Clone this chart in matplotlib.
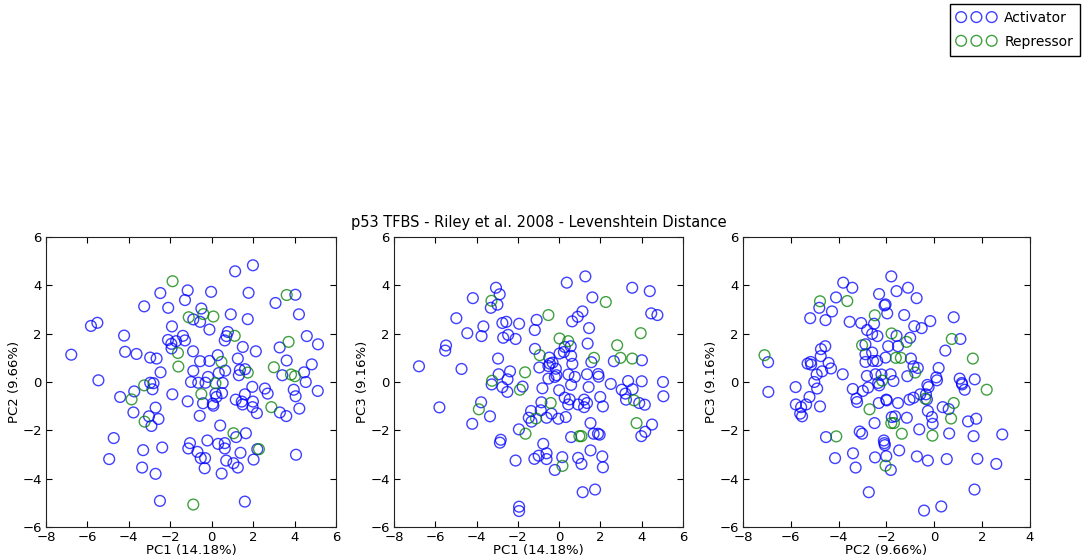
import matplotlib
matplotlib.use("Agg")
import matplotlib.pyplot as plt
import numpy as np

title = "p53 TFBS - Riley et al. 2008 - Levenshtein Distance"
series_names = ["Activator", "Repressor"]
axis_labels = [("PC1 (14.18%)", "PC2 (9.66%)"),
               ("PC1 (14.18%)", "PC3 (9.16%)"),
               ("PC2 (9.66%)", "PC3 (9.16%)")]
xlims = [(-8, 6), (-8, 6), (-8, 4)]
ylim = (-6, 6)

# Panel 1: PC1 vs PC2
p1_act = [(-1.16,3.79),(-2.48,3.68),(-1.29,3.39),(-3.26,3.13),(-2.10,3.07),(-0.89,2.59),(-1.92,2.30),(-5.83,2.32),(-5.52,2.45),(-4.23,1.92),(-1.39,1.91),(-2.11,1.74),(-1.72,1.69),(-1.29,1.72),(-1.95,1.58),(-1.94,1.39),(-0.90,1.27),(-6.78,1.13),(-4.18,1.25),(-3.63,1.16),(-2.97,1.01),(-2.66,0.97),(-2.47,0.40),(-0.89,0.46),(-5.47,0.07),(-1.0,0.0),(-2.97,-0.03),(-2.81,-0.05),(-2.86,-0.30),(-4.42,-0.62),(-3.74,-0.39),(-1.90,-0.51),(-1.16,-0.80),(-2.71,-1.06),(-3.78,-1.26),(-3.03,-1.42),(-2.57,-1.53),(-2.91,-1.82),(-4.73,-2.32),(-1.05,-2.53),(-1.13,-2.75),(-3.31,-2.82),(-2.39,-2.71),(-4.95,-3.19),(-3.36,-3.54),(-2.71,-3.80),(-2.50,-4.92),
          (1.99,4.83),(1.13,4.58),(-0.03,3.73),(1.78,3.69),(4.04,3.61),(3.08,3.27),(-0.50,3.04),(-0.56,2.49),(0.92,2.80),(1.74,2.60),(4.21,2.80),(-0.11,2.17),(0.78,2.07),(0.71,1.90),(0.63,1.72),(4.59,1.90),(5.13,1.56),(1.50,1.45),(3.28,1.43),(2.13,1.27),(0.29,1.11),(1.26,0.97),(-0.56,0.86),(-0.11,0.87),(3.62,0.89),(4.83,0.73),(0.65,0.47),(1.36,0.50),(1.61,0.53),(1.31,0.28),(0.34,0.37),(3.41,0.28),(4.46,0.40),(-0.18,0.21),
          (-0.65,-0.03),(-0.30,-0.03),(0.53,-0.04),(4.54,0.0),(1.96,-0.20),(2.57,-0.27),(2.70,-0.48),(3.96,-0.32),(4.05,-0.59),(5.12,-0.37),(0.18,-0.48),(0.23,-0.62),(0.50,-0.46),(-0.42,-0.88),(0.05,-0.90),(0.08,-0.98),(1.16,-0.73),(1.60,-0.51),(1.45,-0.81),(1.49,-0.93),(1.99,-0.81),(1.97,-1.04),(2.18,-1.29),(3.29,-1.26),(3.60,-1.41),(4.23,-1.10),(-0.58,-1.40),(0.41,-1.80),(1.18,-2.28),(1.65,-2.12),(-0.21,-2.42),(0.31,-2.56),(0.63,-2.53),(0.63,-2.75),(-0.69,-2.89),(-0.53,-3.15),(-0.32,-3.15),(-0.34,-3.57),(0.48,-3.79),(0.70,-3.25),(1.05,-3.36),(1.26,-3.54),(1.39,-2.93),(2.20,-2.78),(2.02,-3.21),(4.07,-3.01),(1.60,-4.95)]
p1_rep = [(-1.89,4.17),(-1.11,2.68),(-1.63,1.20),(-1.61,0.64),(-3.26,-0.14),(-3.87,-0.72),(-3.24,-1.64),(-0.89,-5.07),(3.62,3.60),(-0.40,2.81),(0.08,2.71),(1.11,1.91),(3.71,1.66),(0.47,0.83),(3.00,0.61),(1.74,0.39),(3.83,0.31),(4.02,0.24),(0.18,-0.05),(-0.50,-0.50),(2.88,-1.04),(1.05,-2.12),(2.28,-2.78)]

# Panel 2: PC1 vs PC3
p2_act = [(-3.06,3.90),(-2.88,3.63),(-2.99,3.20),(-3.31,3.07),(-4.18,3.47),(-4.98,2.64),(-3.67,2.30),(-3.76,1.90),(-4.45,2.02),(-2.75,2.44),(-2.56,2.49),(-1.94,2.41),(-1.09,2.57),(-1.18,2.15),(-2.47,1.95),(-2.71,1.83),(-2.11,1.78),(-5.48,1.51),(-5.52,1.30),(-1.17,1.37),(-2.96,0.97),(-6.79,0.65),(-4.73,0.54),(-2.38,0.44),(-0.96,0.60),(-2.93,0.32),(-2.50,0.11),(-3.27,-0.10),(-2.75,-0.21),(-2.51,-0.41),(-1.77,-0.19),(-0.81,-0.26),(-5.80,-1.05),(-3.78,-0.84),(-3.35,-1.42),(-4.21,-1.73),(-1.36,-1.20),(-1.47,-1.48),(-1.34,-1.64),(-0.89,-1.17),(-0.86,-0.84),(-1.95,-1.96),(-2.83,-2.39),(-2.87,-2.51),(-2.11,-3.25),(-1.20,-3.18),(-0.99,-3.05),(-0.77,-2.56),(-1.94,-5.16),(-1.94,-5.34),
          (1.27,4.37),(0.37,4.11),(3.54,3.90),(4.39,3.76),(1.61,3.50),(1.13,2.92),(0.90,2.70),(0.63,2.51),(4.46,2.84),(4.76,2.77),(1.45,2.23),(0.56,1.48),(1.38,1.59),(0.27,1.45),(0.23,1.24),(0.02,1.18),(0.58,1.08),(-0.48,1.01),(-0.32,0.80),(-0.45,0.76),(-0.52,0.66),(0.64,0.75),(1.56,0.82),(2.65,0.86),(4.01,0.90),(-0.16,0.55),(-0.52,0.14),(-0.21,0.21),(-0.13,0.28),(0.45,0.31),(0.76,0.21),(1.35,0.32),(1.89,0.33),(1.91,0.22),(2.50,-0.08),(3.34,0.04),(4.00,0.03),(5.03,0.00),
          (0.58,-0.12),(1.43,-0.21),(0.0,-0.34),(0.27,-0.65),(0.51,-0.72),(0.44,-0.93),(0.92,-0.93),(1.21,-0.73),(1.35,-0.87),(1.21,-1.04),(1.99,-0.62),(2.12,-1.01),(3.03,-0.32),(3.21,-0.48),(3.24,-0.73),(3.56,-0.30),(3.88,-0.87),(4.15,-0.94),(5.05,-0.59),(-0.61,-1.48),(-0.37,-1.31),(-0.04,-1.52),(0.32,-1.45),(1.52,-1.70),(4.50,-1.76),(4.17,-2.06),(3.98,-2.24),(0.58,-2.28),(1.67,-2.14),(1.88,-2.14),(1.96,-2.18),(-0.61,-2.95),(-0.61,-3.19),(0.15,-3.11),(-0.21,-3.64),(0.92,-3.14),(1.08,-3.39),(1.52,-2.83),(2.09,-3.08),(2.12,-3.53),(1.14,-4.56),(1.74,-4.45)]
p2_rep = [(-3.28,3.36),(-0.94,1.11),(-1.65,0.40),(-3.25,0.05),(-1.90,-0.32),(-3.89,-1.13),(-1.12,-1.51),(-1.63,-2.14),(2.26,3.31),(-0.52,2.77),(3.95,2.02),(0.02,1.80),(0.44,1.69),(2.81,1.52),(1.69,1.00),(2.97,1.00),(3.54,0.97),(3.63,-0.76),(-0.41,-0.87),(3.75,-1.70),(0.98,-2.24),(1.08,-2.24),(0.16,-3.47)]

# Panel 3: PC2 vs PC3
p3_act = [(-3.81,4.11),(-3.43,3.90),(-4.11,3.50),(-4.81,3.07),(-4.28,2.92),(-5.19,2.64),(-4.55,2.56),(-3.54,2.49),(-3.06,2.44),(-2.52,2.41),(-2.31,3.64),(-2.04,3.21),(-2.08,3.17),(-1.97,2.84),(-1.80,4.37),(-2.81,2.15),(-2.60,1.99),(-2.38,1.90),(-1.93,1.48),(-2.88,1.56),(-2.88,1.15),(-2.60,1.22),(-2.88,0.83),(-2.56,0.87),(-2.39,0.87),(-2.04,1.01),(-4.56,1.48),(-4.74,1.36),(-4.75,1.07),(-6.95,0.82),(-5.30,0.76),(-5.17,0.83),(-5.15,0.72),(-4.42,0.79),(-4.69,0.44),(-4.32,0.56),(-4.92,0.31),(-5.02,0.0),(-3.83,0.32),(-2.82,0.25),(-2.46,0.32),(-2.21,0.31),(-1.83,0.32),
          (-6.94,-0.41),(-5.80,-0.21),(-4.90,-0.27),(-5.22,-0.62),(-5.36,-0.93),(-5.57,-1.04),(-5.79,-0.93),(-5.61,-1.31),(-5.53,-1.42),(-4.78,-1.01),(-3.41,-0.29),(-2.99,-0.37),(-2.77,-0.23),(-3.26,-0.69),(-3.23,-0.83),(-2.35,-0.04),(-2.30,-0.14),(-2.32,-0.87),(-2.01,-0.73),(-2.50,-1.70),(-1.78,-1.45),(-4.53,-2.28),(-3.12,-2.05),(-3.02,-2.14),(-2.11,-2.42),(-2.09,-2.53),(-2.07,-2.61),(-3.40,-2.95),(-4.15,-3.15),(-3.29,-3.54),(-2.48,-3.12),(-2.01,-3.07),(-1.82,-3.64),(-2.74,-4.56),
          (-1.10,3.90),(-1.58,3.76),(-0.74,3.47),(-1.26,2.77),(0.81,2.68),(-0.17,2.52),(-0.84,2.31),(-0.53,2.23),(-1.58,1.91),(-1.01,1.83),(-1.52,1.48),(1.09,1.78),(0.46,1.30),(-0.98,0.97),(-0.87,0.65),(-0.69,0.58),(0.18,0.58),(0.08,0.19),(-1.13,0.24),(-1.71,0.04),(1.06,0.14),(1.15,-0.04),(1.69,0.11),
          (-0.29,-0.12),(-0.24,-0.21),(0.11,0.07),(1.16,-0.10),(1.27,-0.32),(-1.99,-0.76),(-1.52,-0.87),(-1.04,-0.73),(-0.87,-0.65),(-0.59,-0.51),(-0.35,-0.51),(-0.31,-0.72),(0.35,-1.04),(0.60,-1.12),(-0.27,-1.20),(-0.10,-1.45),(-0.07,-1.73),(1.41,-1.63),(1.75,-1.52),(-1.64,-1.42),(-1.15,-1.48),(-0.63,-1.96),(0.62,-2.13),(1.64,-2.24),(2.84,-2.17),(-1.47,-2.83),(-0.73,-3.08),(-0.27,-3.25),(0.52,-3.19),(1.80,-3.18),(2.59,-3.39),(1.68,-4.45),(0.29,-5.15),(-0.43,-5.32)]
p3_rep = [(-4.78,3.34),(-3.64,3.35),(-2.49,2.76),(-1.79,2.01),(-3.02,1.52),(-7.10,1.11),(-2.18,0.06),(-2.71,-1.13),(-1.80,-1.70),(-4.10,-2.25),(-2.04,-3.46),(-1.16,1.66),(0.73,1.78),(-1.61,1.00),(-1.40,1.00),(1.61,0.97),(-0.80,0.39),(2.19,-0.32),(-0.38,-0.69),(0.81,-0.87),(0.70,-1.51),(-1.69,-1.70),(-1.36,-2.14),(-0.08,-2.22)]

panels = [(p1_act, p1_rep), (p2_act, p2_rep), (p3_act, p3_rep)]
colors = ["#0000ff", "#008000"]

plt.rcParams["font.family"] = "DejaVu Sans"
plt.rcParams["axes.unicode_minus"] = True

fig = plt.figure(figsize=(10.86, 5.6), dpi=100)
boxes = [(46, 336), (394, 683), (743, 1030)]
top_px, bot_px = 237, 527
axes = []
for (l, r) in boxes:
    ax = fig.add_axes([l / 1086, 1 - bot_px / 560, (r - l) / 1086, (bot_px - top_px) / 560])
    axes.append(ax)

handles = None
for i, ax in enumerate(axes):
    act, rep = panels[i]
    hs = []
    for pts, c, name in zip((act, rep), colors, series_names):
        arr = np.array(pts)
        h = ax.scatter(arr[:, 0], arr[:, 1], s=60, facecolors="none", edgecolors=c,
                       linewidths=1.0, alpha=0.75, label=name)
        hs.append(h)
    if handles is None:
        handles = hs
    ax.set_xlim(*xlims[i])
    ax.set_ylim(*ylim)
    ax.set_xticks(np.arange(xlims[i][0], xlims[i][1] + 1, 2))
    ax.set_yticks(np.arange(-6, 7, 2))
    ax.tick_params(direction="in", top=True, right=True, labelsize=9.5, length=4, pad=3)
    ax.set_xlabel(axis_labels[i][0], fontsize=9.5, labelpad=0)
    ax.set_ylabel(axis_labels[i][1], fontsize=9.5, labelpad=1)
    for sp in ax.spines.values():
        sp.set_color("#222222")

axes[1].set_title(title, fontsize=10.5, pad=7)

fig.legend(handles, series_names, loc="upper right", bbox_to_anchor=(1080 / 1086, 1 - 4 / 560),
           scatterpoints=3, scatteryoffsets=[0.5], fontsize=10, fancybox=False,
           edgecolor="black", framealpha=1, borderaxespad=0, handletextpad=0.6,
           borderpad=0.5, labelspacing=0.7, handlelength=2.8)

fig.savefig("out.png", dpi=100, facecolor="white")
